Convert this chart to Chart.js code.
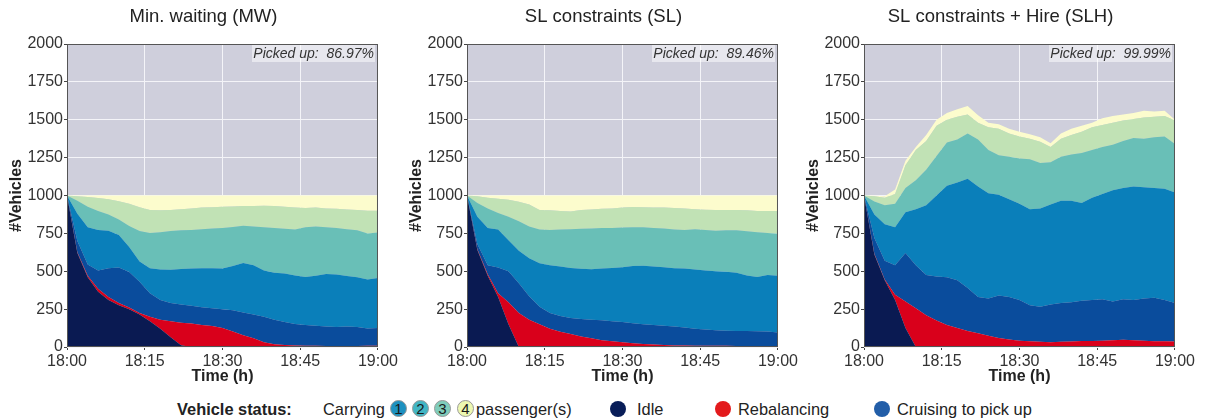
<!DOCTYPE html>
<html>
<head>
<meta charset="utf-8">
<script src="https://cdn.jsdelivr.net/npm/chart.js@4.4.1/dist/chart.umd.min.js"></script>
<style>
  body { margin: 0; background: #fff; width: 1208px; height: 420px; position: relative; overflow: hidden;
         font-family: "Liberation Sans", Arial, sans-serif; color: #222; }
  .panel { position: absolute; top: 0; width: 400px; height: 390px; }
  .legend { position: absolute; top: 399px; left: 0; width: 1208px; height: 20px; font-size: 16.4px; }
  .legend span { position: absolute; top: 0; line-height: 20px; white-space: nowrap; }
  .legend .dot { width: 16px; height: 16px; border-radius: 50%; top: 2px; }
  .legend .num { width: 15px; height: 15px; border-radius: 50%; top: 1px; border: 1px solid #999;
                 font-size: 15px; line-height: 15px; text-align: center; color: #1a1a1a; }
</style>
</head>
<body>
<canvas id="chartMW" class="panel" width="400" height="390" style="left:0px"></canvas>
<canvas id="chartSL" class="panel" width="400" height="390" style="left:400px"></canvas>
<canvas id="chartSLH" class="panel" width="400" height="390" style="left:797px"></canvas>

<div class="legend">
  <span style="left:177px; font-weight:bold">Vehicle status:</span>
  <span style="left:323px">Carrying</span>
  <span class="num" style="left:390px; background:#1d91c0">1</span>
  <span class="num" style="left:412px; background:#41b6c4">2</span>
  <span class="num" style="left:434px; background:#7fcdbb">3</span>
  <span class="num" style="left:457px; background:#edf8b1">4</span>
  <span style="left:476px">passenger(s)</span>
  <span class="dot" style="left:610px; background:#081d58"></span>
  <span style="left:637px">Idle</span>
  <span class="dot" style="left:715px; background:#e31a1c"></span>
  <span style="left:738px">Rebalancing</span>
  <span class="dot" style="left:874px; background:#225ea8"></span>
  <span style="left:897px">Cruising to pick up</span>
</div>

<script>
// Time axis (minutes after 18:00)
const minutes = [0, 2, 4, 6, 8, 10, 12, 14, 16, 18, 20, 22, 24, 26, 28, 30,
                 32, 34, 36, 38, 40, 42, 44, 46, 48, 50, 52, 54, 56, 58, 60];
const tickMinutes = [0, 15, 30, 45, 60];
const timeTicks = ['18:00', '18:15', '18:30', '18:45', '19:00'];

const panelTitles = ['Min. waiting (MW)', 'SL constraints (SL)', 'SL constraints + Hire (SLH)'];
const pickedUp = ['86.97%', '89.46%', '99.99%'];

const layerNames = ['Idle', 'Rebalancing', 'Cruising to pick up',
                    'Carrying 1', 'Carrying 2', 'Carrying 3', 'Carrying 4'];
const areaColors = ['#0a1a52', '#d9001b', '#0a4c9c', '#0a7fba', '#69bfb7', '#c1e2b5', '#fcfccd'];

// Stacked vehicle counts: each array is the top edge of its band
// Min. waiting (MW)
const mwIdle   = [1000, 620, 460, 365, 310, 275, 250, 215, 170, 120, 65, 12, 0, 0, 0, 0,
                  0, 0, 0, 0, 0, 0, 0, 0, 0, 0, 0, 0, 0, 0, 0];
const mwRebal  = [1000, 625, 470, 385, 330, 290, 260, 225, 200, 180, 170, 160, 155, 145, 138, 125,
                  102, 78, 58, 32, 18, 14, 10, 8, 8, 6, 6, 5, 6, 8, 8];
const mwCruise = [1000, 700, 545, 505, 520, 525, 495, 430, 355, 310, 290, 280, 272, 262, 255, 250,
                  242, 228, 215, 200, 180, 165, 152, 145, 140, 135, 132, 135, 132, 122, 125];
const mwCarry1 = [1000, 880, 790, 772, 768, 740, 660, 565, 520, 512, 510, 515, 518, 520, 520, 518,
                  535, 555, 540, 505, 490, 485, 472, 462, 470, 482, 478, 468, 460, 445, 455];
const mwCarry2 = [1000, 965, 925, 898, 875, 842, 798, 765, 752, 758, 765, 770, 772, 778, 782, 785,
                  792, 800, 795, 790, 785, 780, 775, 790, 795, 790, 785, 778, 770, 750, 755];
const mwCarry3 = [1000, 995, 990, 983, 975, 962, 945, 922, 905, 902, 905, 910, 915, 920, 922, 925,
                  928, 930, 930, 932, 930, 925, 920, 918, 920, 915, 912, 908, 905, 900, 900];
const mwCarry4 = [1000, 1000, 1000, 1000, 1000, 1000, 1000, 1000, 1000, 1000, 1000, 1000, 1000, 1000, 1000, 1000,
                  1000, 1000, 1000, 1000, 1000, 1000, 1000, 1000, 1000, 1000, 1000, 1000, 1000, 1000, 1000];

// SL constraints (SL)
const slIdle   = [1000, 640, 470, 330, 150, 0, 0, 0, 0, 0, 0, 0, 0, 0, 0, 0,
                  0, 0, 0, 0, 0, 0, 0, 0, 0, 0, 0, 0, 0, 0, 0];
const slRebal  = [1000, 645, 480, 355, 295, 225, 180, 150, 120, 100, 85, 70, 58, 45, 38, 32,
                  24, 20, 17, 14, 10, 10, 8, 8, 8, 8, 7, 7, 6, 6, 6];
const slCruise = [1000, 680, 540, 525, 500, 420, 335, 265, 225, 205, 192, 185, 180, 176, 170, 165,
                  157, 150, 145, 140, 135, 128, 120, 115, 110, 108, 106, 106, 104, 102, 96];
const slCarry1 = [1000, 860, 785, 775, 705, 635, 585, 552, 540, 532, 522, 516, 514, 518, 522, 526,
                  534, 536, 532, 526, 520, 518, 512, 505, 500, 496, 490, 472, 462, 476, 470];
const slCarry2 = [1000, 950, 915, 885, 860, 830, 795, 775, 772, 775, 778, 780, 782, 785, 786, 788,
                  790, 790, 786, 782, 776, 772, 778, 772, 768, 770, 770, 764, 758, 752, 748];
const slCarry3 = [1000, 995, 985, 978, 972, 958, 940, 905, 902, 898, 895, 905, 908, 912, 915, 920,
                  924, 922, 920, 920, 918, 914, 910, 906, 905, 905, 905, 902, 898, 897, 897];
const slCarry4 = [1000, 1000, 1000, 1000, 1000, 1000, 1000, 1000, 1000, 1000, 1000, 1000, 1000, 1000, 1000, 1000,
                  1000, 1000, 1000, 1000, 1000, 1000, 1000, 1000, 1000, 1000, 1000, 1000, 1000, 1000, 1000];

// SL constraints + Hire (SLH)
const slhIdle   = [1000, 610, 440, 310, 125, 0, 0, 0, 0, 0, 0, 0, 0, 0, 0, 0,
                   0, 0, 0, 0, 0, 0, 0, 0, 0, 0, 0, 0, 0, 0, 0];
const slhRebal  = [1000, 615, 445, 345, 300, 255, 210, 175, 145, 125, 105, 90, 75, 60, 50, 42,
                   38, 35, 32, 34, 36, 40, 40, 42, 44, 48, 44, 42, 38, 38, 36];
const slhCruise = [1000, 720, 570, 540, 620, 540, 475, 465, 460, 440, 390, 330, 320, 340, 330, 310,
                   275, 265, 280, 290, 295, 305, 310, 315, 300, 315, 310, 320, 325, 310, 290];
const slhCarry1 = [1000, 875, 810, 790, 890, 910, 935, 1000, 1065, 1085, 1110, 1060, 1015, 1005, 975, 945,
                   910, 915, 940, 965, 965, 950, 985, 1010, 1035, 1050, 1060, 1055, 1050, 1045, 1020];
const slhCarry2 = [1000, 960, 935, 945, 1050, 1100, 1170, 1260, 1350, 1370, 1410, 1370, 1300, 1265, 1255, 1245,
                   1240, 1215, 1220, 1255, 1270, 1280, 1300, 1320, 1335, 1360, 1380, 1375, 1385, 1390, 1340];
const slhCarry3 = [1000, 995, 985, 1010, 1200, 1300, 1360, 1460, 1500, 1520, 1535, 1480, 1450, 1440, 1410, 1390,
                   1375, 1355, 1320, 1375, 1400, 1420, 1450, 1465, 1480, 1495, 1505, 1515, 1520, 1525, 1495];
const slhCarry4 = [1000, 998, 995, 1040, 1230, 1320, 1400, 1500, 1545, 1570, 1590, 1530, 1480, 1470, 1440, 1420,
                   1405, 1385, 1345, 1410, 1440, 1460, 1480, 1510, 1525, 1535, 1545, 1560, 1555, 1560, 1500];

const FONT = '"Liberation Sans", Arial, sans-serif';

// Panel background, frame, title and the "Picked up" note
const panelFrame = {
    id: 'panelFrame',
    beforeDraw(chart) {
        const { ctx, chartArea: a } = chart;
        ctx.save();
        ctx.fillStyle = '#cfcfdc';
        ctx.fillRect(a.left, a.top, a.right - a.left, a.bottom - a.top);
        ctx.restore();
    },
    afterDraw(chart, args, opts) {
        const { ctx, chartArea: a } = chart;
        ctx.save();
        ctx.strokeStyle = '#555';
        ctx.lineWidth = 1;
        ctx.strokeRect(a.left + 0.5, a.top + 0.5, a.right - a.left - 1, a.bottom - a.top - 1);

        // note box
        ctx.fillStyle = 'rgba(255,255,255,0.5)';
        ctx.fillRect(a.right - 126, a.top + 1, 123, 17);
        ctx.fillStyle = '#333';
        ctx.font = 'italic 14px ' + FONT;
        ctx.textAlign = 'right';
        ctx.textBaseline = 'middle';
        ctx.fillText('Picked up:  ' + opts.picked, a.right - 4, a.top + 10);

        // panel title
        ctx.fillStyle = '#222';
        ctx.font = '18.5px ' + FONT;
        ctx.textAlign = 'center';
        ctx.fillText(opts.title, (a.left + a.right) / 2 - 19, 17);
        ctx.restore();
    }
};

function makeChart(id, idx, series) {
    const datasets = series.map((vals, k) => ({
        label: layerNames[k],
        data: vals.map((v, i) => ({ x: minutes[i], y: v })),
        backgroundColor: areaColors[k],
        borderWidth: 0,
        pointRadius: 0,
        fill: k === 0 ? 'origin' : '-1'
    }));

    return new Chart(document.getElementById(id), {
        type: 'line',
        data: { datasets: datasets },
        options: {
            responsive: false,
            animation: false,
            events: [],
            layout: { padding: { top: 44, right: 22 } },
            plugins: {
                legend: { display: false },
                tooltip: { enabled: false },
                panelFrame: { title: panelTitles[idx], picked: pickedUp[idx] }
            },
            scales: {
                x: {
                    type: 'linear',
                    min: 0,
                    max: 60,
                    afterBuildTicks: s => { s.ticks = tickMinutes.map(v => ({ value: v })); },
                    afterFit: s => { s.height = 43; },
                    ticks: {
                        callback: v => timeTicks[tickMinutes.indexOf(v)],
                        autoSkip: false,
                        maxRotation: 0,
                        color: '#333',
                        padding: 2,
                        font: { size: 16, family: FONT }
                    },
                    grid: { color: '#f4f4f8', tickColor: '#444', tickLength: 3 },
                    border: { display: false },
                    title: {
                        display: true,
                        text: 'Time (h)',
                        color: '#222',
                        font: { size: 16, weight: 'bold', family: FONT },
                        padding: { top: 0, bottom: 4 }
                    }
                },
                y: {
                    min: 0,
                    max: 2000,
                    afterFit: s => { s.width = 67; },
                    ticks: {
                        stepSize: 250,
                        callback: v => String(v),
                        color: '#333',
                        padding: 1,
                        font: { size: 16, family: FONT }
                    },
                    grid: { color: '#f4f4f8', tickColor: '#444', tickLength: 3 },
                    border: { display: false },
                    title: {
                        display: true,
                        text: '#Vehicles',
                        color: '#222',
                        font: { size: 16, weight: 'bold', family: FONT },
                        padding: { top: 7, bottom: 0 }
                    }
                }
            }
        },
        plugins: [panelFrame]
    });
}

makeChart('chartMW', 0, [mwIdle, mwRebal, mwCruise, mwCarry1, mwCarry2, mwCarry3, mwCarry4]);
makeChart('chartSL', 1, [slIdle, slRebal, slCruise, slCarry1, slCarry2, slCarry3, slCarry4]);
makeChart('chartSLH', 2, [slhIdle, slhRebal, slhCruise, slhCarry1, slhCarry2, slhCarry3, slhCarry4]);
</script>
</body>
</html>
